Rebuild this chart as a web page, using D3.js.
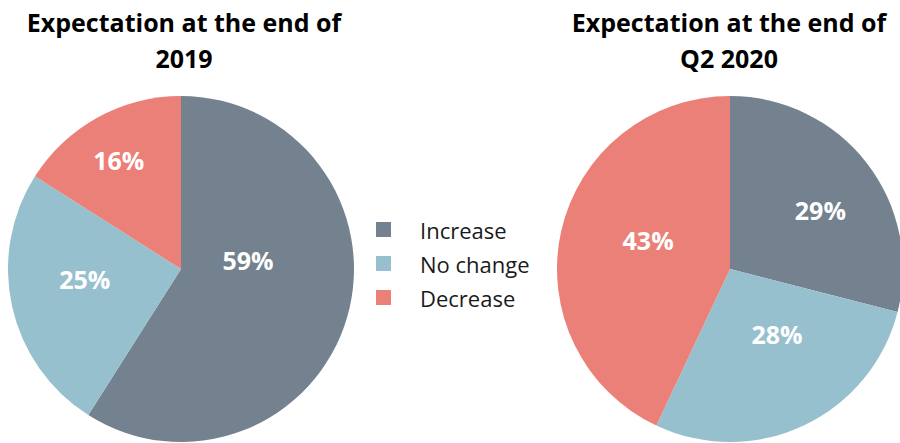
<!DOCTYPE html>
<html>
<head>
<meta charset="utf-8">
<script src="https://cdn.jsdelivr.net/npm/d3@7"></script>
<style>
  html, body { margin: 0; padding: 0; background: #ffffff; }
  svg { display: block; }
</style>
</head>
<body>
<svg id="chart" width="900" height="443"></svg>
<script>
// Survey answers: expected change, share of respondents (%)
const categories = ["Increase", "No change", "Decrease"];
const titles2019 = ["Expectation at the end of", "2019"];
const titlesQ2 = ["Expectation at the end of", "Q2 2020"];
const values2019 = [59, 25, 16];
const valuesQ2 = [29, 28, 43];

// Slice colours, in category order
const colours = ["#74828f", "#97c0ce", "#eb8078"];

// Where each percentage label sits inside its slice:
// [fraction of radius, fraction of the slice's sweep]
const labelSpots2019 = [[0.39, 0.39], [0.56, 0.57], [0.72, 0.48]];
const labelSpotsQ2 = [[0.62, 0.55], [0.47, 0.40], [0.50, 0.54]];

const svg = d3.select("#chart");
const radius = 173;
const fontFamily = "'Open Sans', 'DejaVu Sans', sans-serif";

const colour = d3.scaleOrdinal().domain(categories).range(colours);
const pie = d3.pie().sort(null).value(d => d.value);
const arc = d3.arc().innerRadius(0).outerRadius(radius);

function drawPie(cx, cy, values, titleLines, titleX, labelSpots) {
  const data = categories.map((c, i) => ({ category: c, value: values[i] }));
  const arcs = pie(data);
  const g = svg.append("g").attr("transform", `translate(${cx},${cy})`);

  g.selectAll("path.slice")
    .data(arcs)
    .join("path")
    .attr("class", "slice")
    .attr("d", arc)
    .attr("fill", d => colour(d.data.category));

  g.selectAll("text.pct")
    .data(arcs)
    .join("text")
    .attr("class", "pct")
    .attr("transform", (d, i) => {
      const [rf, af] = labelSpots[i];
      const a = d.startAngle + af * (d.endAngle - d.startAngle);
      const rr = rf * radius;
      return `translate(${rr * Math.sin(a)},${-rr * Math.cos(a)})`;
    })
    .attr("text-anchor", "middle")
    .attr("dy", "0.36em")
    .attr("font-family", fontFamily)
    .attr("font-weight", 700)
    .attr("font-size", 25)
    .attr("fill", "#ffffff")
    .text(d => d.data.value + "%");

  const title = svg.append("text")
    .attr("x", titleX)
    .attr("text-anchor", "middle")
    .attr("font-family", fontFamily)
    .attr("font-weight", 700)
    .attr("font-size", 25)
    .attr("fill", "#000000");
  titleLines.forEach((line, i) => {
    title.append("tspan")
      .attr("x", titleX)
      .attr("y", 32 + i * 36)
      .text(line);
  });
}

drawPie(181, 269, values2019, titles2019, 184, labelSpots2019);
drawPie(730, 269, valuesQ2, titlesQ2, 729, labelSpotsQ2);

// Legend between the two pies
const legendY = d3.scalePoint().domain(categories).range([229.5, 297.5]);
const legend = svg.append("g");
const item = legend.selectAll("g.item")
  .data(categories)
  .join("g")
  .attr("class", "item")
  .attr("transform", d => `translate(376,${legendY(d)})`);
item.append("rect")
  .attr("x", 0)
  .attr("y", -7.5)
  .attr("width", 15)
  .attr("height", 15)
  .attr("fill", d => colour(d));
item.append("text")
  .attr("x", 44)
  .attr("y", 9.5)
  .attr("font-family", fontFamily)
  .attr("font-size", 22)
  .attr("fill", "#1a1a1a")
  .text(d => d);
</script>
</body>
</html>
